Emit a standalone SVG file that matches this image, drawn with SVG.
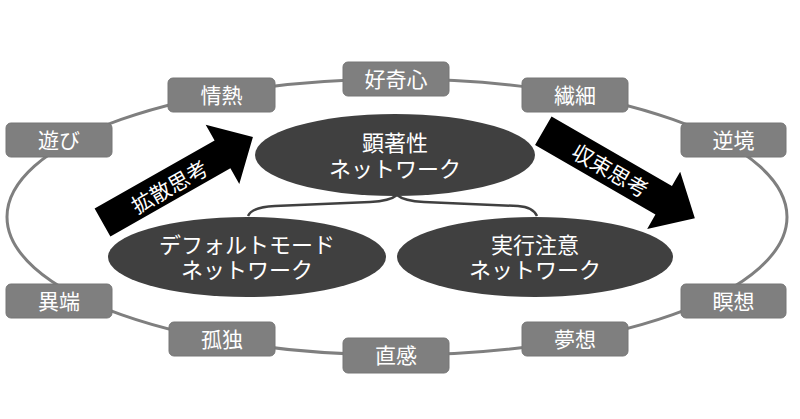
<svg xmlns="http://www.w3.org/2000/svg" width="800" height="419" viewBox="0 0 800 419">
<style>
.box{fill:#7f7f7f;stroke:#767676;stroke-width:1}
.bt{fill:#ffffff;font-family:"Noto Sans CJK JP","Noto Sans CJK SC",sans-serif;font-size:21px;text-anchor:middle;dominant-baseline:central}
.net{fill:#404040}
.nt{fill:#ffffff;font-family:"Noto Sans CJK JP","Noto Sans CJK SC",sans-serif;font-size:22px;text-anchor:middle;dominant-baseline:central}
.arr{fill:#000000}
.at{fill:#ffffff;font-family:"Noto Sans CJK JP","Noto Sans CJK SC",sans-serif;font-size:21px;text-anchor:middle;dominant-baseline:central}
.loop{fill:none;stroke:#7f7f7f;stroke-width:3}
.brace{fill:none;stroke:#404040;stroke-width:2.5}
</style>
<rect width="800" height="419" fill="#ffffff"/>
<g id="connectors">
<ellipse class="loop" cx="397" cy="217" rx="390" ry="138"/>
<path class="brace" d="M248,216 Q252,207 275,206 L370,202 Q390,201 397,195 Q404,201 424,202 L518,206 Q533,207 537,216"/>
</g>
<g id="salience">
<ellipse class="net" cx="395" cy="155" rx="140" ry="41"/>
<text class="nt" x="395" y="141">顕著性<tspan x="395" dy="26">ネットワーク</tspan></text>
</g>
<g id="default-mode">
<ellipse class="net" cx="247" cy="257" rx="139" ry="40"/>
<text class="nt" x="247" y="243">デフォルトモード<tspan x="247" dy="25">ネットワーク</tspan></text>
</g>
<g id="executive">
<ellipse class="net" cx="535" cy="257" rx="138" ry="40"/>
<text class="nt" x="535" y="243">実行注意<tspan x="535" dy="25">ネットワーク</tspan></text>
</g>
<g id="arrow-divergent" transform="translate(102.5,222.5) rotate(-29.6)">
<polygon class="arr" points="0,-16 138,-16 138,-34 173,0 138,34 138,16 0,16"/>
<text class="at" x="76" y="1">拡散思考</text>
</g>
<g id="arrow-convergent" transform="translate(543.3,130.8) rotate(30)">
<polygon class="arr" points="0,-16.5 139,-16.5 139,-33 175,0 139,33 139,16.5 0,16.5"/>
<text class="at" x="78" y="0">収束思考</text>
</g>
<g id="n-asobi"><rect class="box" x="6" y="123" width="106" height="34" rx="5"/><text class="bt" x="59" y="139">遊び</text></g>
<g id="n-jonetsu"><rect class="box" x="168" y="78" width="107" height="34" rx="5"/><text class="bt" x="221.5" y="94">情熱</text></g>
<g id="n-kokishin"><rect class="box" x="343" y="62" width="106" height="34" rx="5"/><text class="bt" x="396" y="78">好奇心</text></g>
<g id="n-sensai"><rect class="box" x="522" y="78" width="106" height="34" rx="5"/><text class="bt" x="575" y="94">繊細</text></g>
<g id="n-gyakkyo"><rect class="box" x="681" y="123" width="105" height="34" rx="5"/><text class="bt" x="733.5" y="139">逆境</text></g>
<g id="n-meiso"><rect class="box" x="681" y="284" width="105" height="34" rx="5"/><text class="bt" x="733.5" y="300">瞑想</text></g>
<g id="n-muso"><rect class="box" x="522" y="322" width="106" height="34" rx="5"/><text class="bt" x="575" y="338">夢想</text></g>
<g id="n-chokkan"><rect class="box" x="343" y="338" width="106" height="35" rx="5"/><text class="bt" x="396" y="354">直感</text></g>
<g id="n-kodoku"><rect class="box" x="169" y="322" width="106" height="34" rx="5"/><text class="bt" x="222" y="338">孤独</text></g>
<g id="n-itan"><rect class="box" x="6" y="284" width="106" height="34" rx="5"/><text class="bt" x="59" y="300">異端</text></g>
</svg>
